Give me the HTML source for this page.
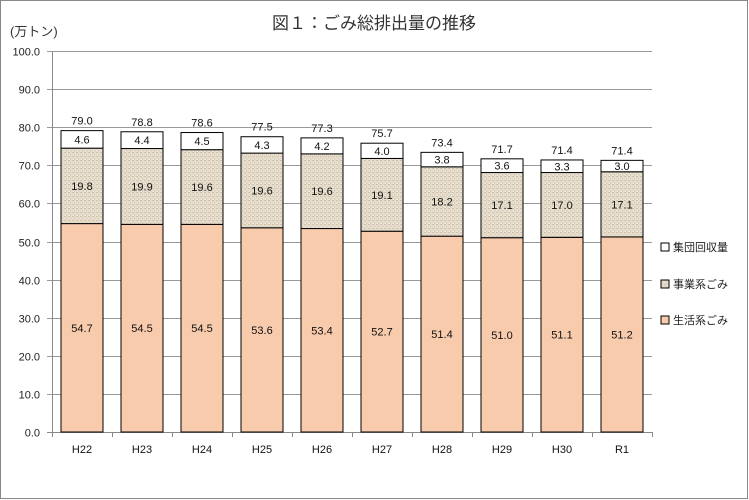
<!DOCTYPE html>
<html><head><meta charset="utf-8"><style>
body{margin:0;background:#fff}
svg{display:block;font-family:"Liberation Sans","Noto Sans CJK JP",sans-serif}
</style></head><body>
<svg width="749" height="500" viewBox="0 0 749 500">
<defs>
<pattern id="tx" width="4" height="4" patternUnits="userSpaceOnUse">
<rect width="4" height="4" fill="#e6dccb"/>
<rect x="0" y="0" width="2" height="1" fill="#cfc3ad"/>
<rect x="2" y="2" width="1" height="2" fill="#d6ccb8"/>
<rect x="1" y="3" width="1" height="1" fill="#f3ede2"/>
</pattern>
</defs>
<rect x="0.5" y="0.5" width="747" height="498" fill="#fff" stroke="#888"/>
<text x="374" y="29" font-size="17" text-anchor="middle" fill="#333">図１：ごみ総排出量の推移</text>
<text x="10" y="36" font-size="13" fill="#333">(万トン)</text>
<g id="grid" stroke="#888" stroke-width="1"></g>
<g id="bars"></g>
<g font-size="11" fill="#222">
<rect x="661" y="243" width="8" height="8" fill="#fff" stroke="#000"/>
<text x="673" y="251">集団回収量</text>
<rect x="661" y="280" width="8" height="8" fill="url(#tx)" stroke="#000"/>
<text x="673" y="288">事業系ごみ</text>
<rect x="661" y="316" width="8" height="8" fill="#f8cbad" stroke="#000"/>
<text x="673" y="324">生活系ごみ</text>
</g>
</svg>
<script>
const ns="http://www.w3.org/2000/svg",svg=document.querySelector('svg');
function el(t,a,txt){const e=document.createElementNS(ns,t);for(const k in a)e.setAttribute(k,a[k]);if(txt!=null)e.textContent=txt;svg.appendChild(e);return e;}
const y0=432,sc=3.81,L=52,R=652;
for(let v=0;v<=100;v+=10){const y=Math.round(y0-v*sc)+0.5;
el('line',{x1:L-5,x2:R,y1:y,y2:y,stroke:v==0?'#888':'#999'});
el('text',{x:40,y:y+4,'font-size':11,'text-anchor':'end',fill:'#222'},v.toFixed(1));}
el('line',{x1:L+.5,x2:L+.5,y1:y0-100*sc,y2:y0+5,stroke:'#888'});
const cats=['H22','H23','H24','H25','H26','H27','H28','H29','H30','R1'];
const a=[54.7,54.5,54.5,53.6,53.4,52.7,51.4,51.0,51.1,51.2];
const b=[19.8,19.9,19.6,19.6,19.6,19.1,18.2,17.1,17.0,17.1];
const c=[4.6,4.4,4.5,4.3,4.2,4.0,3.8,3.6,3.3,3.0];
const t=[79.0,78.8,78.6,77.5,77.3,75.7,73.4,71.7,71.4,71.4];
for(let i=0;i<10;i++){
 const cx=L+30+i*60,x=cx-21,w=42;
 el('line',{x1:L+60*(i+1)+.5,x2:L+60*(i+1)+.5,y1:y0,y2:y0+5,stroke:'#888'});
 const ya=y0-a[i]*sc,yb=ya-b[i]*sc,yc=yb-c[i]*sc;
 el('rect',{x:x,y:ya,width:w,height:a[i]*sc,fill:'#f8cbad',stroke:'#000'});
 el('rect',{x:x,y:yb,width:w,height:b[i]*sc,fill:'url(#tx)',stroke:'#000'});
 el('rect',{x:x,y:yc,width:w,height:c[i]*sc,fill:'#fff',stroke:'#000'});
 const f={'font-size':11,'text-anchor':'middle',fill:'#111'};
 el('text',Object.assign({x:cx,y:(ya+y0)/2+4},f),a[i].toFixed(1));
 el('text',Object.assign({x:cx,y:(yb+ya)/2+4},f),b[i].toFixed(1));
 el('text',Object.assign({x:cx,y:(yc+yb)/2+4},f),c[i].toFixed(1));
 el('text',Object.assign({x:cx,y:yc-6},f),t[i].toFixed(1));
 el('text',Object.assign({x:cx,y:453},f),cats[i]);
}
</script>
</body></html>
